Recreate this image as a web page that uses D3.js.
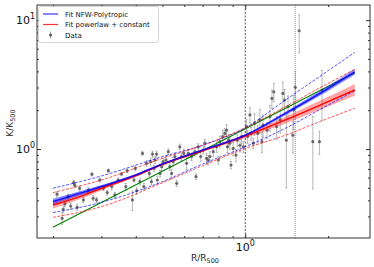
<!DOCTYPE html>
<html><head><meta charset="utf-8">
<script src="https://cdn.jsdelivr.net/npm/d3@7"></script>
<style>body{margin:0;background:#fff} svg{font-family:"DejaVu Sans",sans-serif}</style>
</head><body><svg id="chart" width="374" height="267"></svg>
<script>
// measured profile points
const dataR = [0.207,0.216,0.218,0.221,0.227,0.232,0.238,0.240,0.245,0.250,0.258,0.269,0.277,0.280,0.288,0.296,0.305,0.315,0.318,0.327,
  0.336,0.345,0.355,0.368,0.372,0.389,0.394,0.398,0.403,0.414,0.423,0.428,0.438,0.448,0.453,0.456,0.460,0.466,0.470,0.476,
  0.479,0.490,0.497,0.503,0.515,0.525,0.532,0.540,0.547,0.555,0.563,0.578,0.586,0.598,0.612,0.621,0.638,0.656,0.662,0.675,
  0.689,0.704,0.713,0.723,0.733,0.744,0.765,0.787,0.798,0.809,0.828,0.843,0.855,0.861,0.870,0.879,0.887,0.904,0.925,0.935,
  0.957,0.970,0.984,1.01,1.02,1.04,1.05,1.07,1.08,1.11,1.13,1.15,1.16,1.20,1.23,1.25,1.27,1.30,1.34,1.37,
  1.39,1.41,1.43,1.49,1.50,1.52,1.57,1.76,1.86,1.90];
const dataK = [0.446,0.290,0.341,0.375,0.427,0.361,0.548,0.523,0.353,0.496,0.403,0.481,0.637,0.415,0.403,0.575,0.496,0.459,0.679,0.511,
  0.440,0.575,0.640,0.511,0.679,0.403,0.575,0.708,0.475,0.558,0.925,0.511,0.774,0.647,0.798,0.558,0.914,0.708,0.822,0.914,
  0.575,0.647,0.730,0.798,0.822,0.953,0.730,0.647,0.798,0.873,0.542,1.04,0.873,0.925,0.774,0.925,0.873,0.953,0.611,1.04,
  0.873,0.982,1.11,0.847,0.822,0.873,0.953,1.04,0.822,1.14,1.25,1.32,1.40,1.04,1.17,1.11,0.751,1.01,0.898,1.17,
  1.07,1.25,1.04,1.49,1.25,1.84,1.32,1.11,1.58,1.32,1.68,1.14,1.53,1.40,1.78,2.47,2.78,1.49,1.68,2.70,
  2.40,1.17,2.13,1.28,2.01,3.01,8.27,1.14,1.14,2.87];
const dataErr = [0.02,0.03,0.02,0.02,0.02,0.02,0.02,0.02,0.02,0.02,0.02,0.02,0.02,0.02,0.02,0.02,0.02,0.02,0.02,0.03,
  0.02,0.02,0.02,0.03,0.02,0.07,0.02,0.03,0.03,0.03,0.03,0.03,0.04,0.03,0.05,0.03,0.05,0.04,0.05,0.05,
  0.04,0.04,0.05,0.05,0.06,0.05,0.05,0.05,0.06,0.06,0.03,0.05,0.06,0.07,0.08,0.07,0.06,0.07,0.03,0.06,
  0.07,0.07,0.08,0.08,0.07,0.08,0.08,0.10,0.06,0.12,0.15,0.12,0.15,0.10,0.12,0.12,0.05,0.12,0.10,0.12,
  0.12,0.15,0.10,0.20,0.15,0.25,0.15,0.10,0.30,0.20,0.35,0.20,0.30,0.20,0.40,0.40,0.45,0.30,0.35,0.60,
  0.50,0.67,0.45,0.35,0.60,1.00,2.70,0.65,0.23,1.20];

// model fits
const fitR = [0.2,0.25,0.3,0.4,0.5,0.7,1.0,1.4,2.0,2.5];
const nfwMid = [0.391,0.453,0.511,0.628,0.766,0.982,1.28,1.89,2.95,3.97];
const nfwLo = [0.372,0.436,0.496,0.616,0.757,0.970,1.26,1.83,2.82,3.76];
const nfwHi = [0.411,0.471,0.526,0.641,0.775,0.994,1.30,1.95,3.08,4.19];
const plcMid = [0.368,0.427,0.496,0.621,0.760,0.970,1.26,1.68,2.33,2.87];
const plcLo = [0.346,0.407,0.477,0.606,0.747,0.953,1.22,1.58,2.14,2.59];
const plcHi = [0.392,0.448,0.516,0.637,0.774,0.987,1.30,1.78,2.54,3.19];

const dashR = [0.2,0.3,0.5,0.7,1.0,1.4,2.0,2.5];
const nfwDashHi = [0.496,0.618,0.872,1.07,1.46,2.40,4.05,5.62];
const nfwDashLo = [0.321,0.386,0.558,0.765,1.04,1.45,2.19,2.83];
const plcDashHi = [0.459,0.575,0.847,1.07,1.46,2.13,3.23,4.15];
const plcDashLo = [0.295,0.357,0.548,0.743,1.01,1.28,1.73,2.07];

const baseR = [0.2,2.5];
const baseK = [0.247,3.91];

const vLines = [1.0,1.52];
const xMinor = [0.2,0.3,0.4,0.5,0.6,0.7,0.8,0.9,2];
const yMinor = [0.3,0.4,0.5,0.6,0.7,0.8,0.9,2,3,4,5,6,7,8,9];

const svg = d3.select("#chart");
const m = {left: 37, right: 370, top: 5, bottom: 238};

const x = d3.scaleLog().domain([0.175, 2.84]).range([m.left, m.right]);
const y = d3.scaleLog().domain([0.204, 13.1]).range([m.bottom, m.top]);

svg.append("clipPath").attr("id", "clip")
    .append("rect").attr("x", m.left).attr("y", m.top)
    .attr("width", m.right - m.left).attr("height", m.bottom - m.top);

const plot = svg.append("g").attr("clip-path", "url(#clip)");

// vertical markers
plot.append("line")
    .attr("x1", x(vLines[0])).attr("x2", x(vLines[0]))
    .attr("y1", m.top).attr("y2", m.bottom)
    .attr("stroke", "#222").attr("stroke-width", 0.8).attr("stroke-dasharray", "2,1.5");
plot.append("line")
    .attr("x1", x(vLines[1])).attr("x2", x(vLines[1]))
    .attr("y1", m.top).attr("y2", m.bottom)
    .attr("stroke", "#aaa").attr("stroke-width", 1.4).attr("stroke-dasharray", "1,1");

// data with error bars
const pts = dataR.map((r, i) => ({r: r, k: dataK[i], e: dataErr[i]}));
const eb = plot.append("g").attr("stroke", "#888").attr("stroke-opacity", 0.65).attr("stroke-width", 0.9);
pts.forEach(d => {
    const lo = Math.max(d.k - d.e, 0.01);
    const cx = x(d.r);
    eb.append("line")
        .attr("x1", cx).attr("x2", cx)
        .attr("y1", y(lo)).attr("y2", y(d.k + d.e));
    [lo, d.k + d.e].forEach(v => {
        eb.append("line").attr("x1", cx - 1).attr("x2", cx + 1)
            .attr("y1", y(v)).attr("y2", y(v));
    });
});
plot.append("g").selectAll("circle")
    .data(pts)
    .join("circle")
    .attr("cx", d => x(d.r))
    .attr("cy", d => y(d.k))
    .attr("r", 1.6)
    .attr("fill", "#4d4d4d")
    .attr("fill-opacity", 0.8);

const line = (xs, ys) => d3.line()
    .x((d, i) => x(xs[i]))
    .y(d => y(d))
    .curve(d3.curveMonotoneX)(ys);

const band = (xs, lo, hi) => d3.area()
    .x((d, i) => x(xs[i]))
    .y0((d, i) => y(lo[i]))
    .y1(d => y(d))
    .curve(d3.curveMonotoneX)(hi);

// green baseline
plot.append("path").attr("d", line(baseR, baseK))
    .attr("fill", "none").attr("stroke", "#008000").attr("stroke-width", 1.1);

// bands
plot.append("path").attr("d", band(fitR, plcLo, plcHi)).attr("fill", "#ff0000").attr("fill-opacity", 0.35);
plot.append("path").attr("d", band(fitR, nfwLo, nfwHi)).attr("fill", "#0000ff").attr("fill-opacity", 0.45);

// dashed envelopes
[[nfwDashHi, "#0000ff"], [nfwDashLo, "#0000ff"], [plcDashHi, "#ff0000"], [plcDashLo, "#ff0000"]].forEach(([ys, c]) => {
    plot.append("path").attr("d", line(dashR, ys))
        .attr("fill", "none").attr("stroke", c).attr("stroke-width", 0.9)
        .attr("stroke-opacity", 0.75).attr("stroke-dasharray", "3,1.5");
});

// central fits
plot.append("path").attr("d", line(fitR, plcMid))
    .attr("fill", "none").attr("stroke", "#ff0000").attr("stroke-width", 1.4);
plot.append("path").attr("d", line(fitR, nfwMid))
    .attr("fill", "none").attr("stroke", "#0000ff").attr("stroke-width", 1.6).attr("stroke-opacity", 0.8);

// axes with inward ticks
const axisColor = "#333";
function styleAxis(g) {
    g.select(".domain").remove();
    g.selectAll("line").attr("stroke", axisColor);
}
svg.append("g").attr("transform", `translate(0,${m.bottom})`)
    .call(d3.axisBottom(x).tickValues([1]).tickSize(-4).tickFormat(""))
    .call(styleAxis);
svg.append("g").attr("transform", `translate(0,${m.bottom})`)
    .call(d3.axisBottom(x).tickValues(xMinor).tickSize(-2).tickFormat(""))
    .call(styleAxis);
svg.append("g").attr("transform", `translate(0,${m.top})`)
    .call(d3.axisTop(x).tickValues([1]).tickSize(-4).tickFormat(""))
    .call(styleAxis);
svg.append("g").attr("transform", `translate(0,${m.top})`)
    .call(d3.axisTop(x).tickValues(xMinor).tickSize(-2).tickFormat(""))
    .call(styleAxis);
svg.append("g").attr("transform", `translate(${m.left},0)`)
    .call(d3.axisLeft(y).tickValues([1, 10]).tickSize(-4).tickFormat(""))
    .call(styleAxis);
svg.append("g").attr("transform", `translate(${m.left},0)`)
    .call(d3.axisLeft(y).tickValues(yMinor).tickSize(-2).tickFormat(""))
    .call(styleAxis);
svg.append("g").attr("transform", `translate(${m.right},0)`)
    .call(d3.axisRight(y).tickValues([1, 10]).tickSize(-4).tickFormat(""))
    .call(styleAxis);
svg.append("g").attr("transform", `translate(${m.right},0)`)
    .call(d3.axisRight(y).tickValues(yMinor).tickSize(-2).tickFormat(""))
    .call(styleAxis);

svg.append("rect")
    .attr("x", m.left).attr("y", m.top)
    .attr("width", m.right - m.left).attr("height", m.bottom - m.top)
    .attr("fill", "none").attr("stroke", axisColor).attr("stroke-width", 1);

// tick labels 10^n
function powLabel(tx, ty, exp, anchor) {
    const t = svg.append("text").attr("x", tx).attr("y", ty)
        .attr("text-anchor", anchor).attr("font-size", 11).attr("fill", "#111");
    t.append("tspan").text("10");
    t.append("tspan").attr("font-size", 8).attr("dy", -5).text(exp);
}
powLabel(35, y(10) + 4, "1", "end");
powLabel(35, y(1) + 4, "0", "end");
powLabel(x(1), 251, "0", "middle");

// axis titles
const xl = svg.append("text").attr("x", 205).attr("y", 261)
    .attr("text-anchor", "middle").attr("font-size", 9).attr("fill", "#222");
xl.append("tspan").text("R/R");
xl.append("tspan").attr("font-size", 6.5).attr("dy", 2).text("500");

const yl = svg.append("text").attr("transform", "translate(13,123) rotate(-90)")
    .attr("text-anchor", "middle").attr("font-size", 9).attr("fill", "#222");
yl.append("tspan").text("K/K");
yl.append("tspan").attr("font-size", 6.5).attr("dy", 2).text("500");

// legend
const lg = svg.append("g");
lg.append("rect").attr("x", 38.5).attr("y", 6.5).attr("width", 120).attr("height", 36).attr("rx", 2)
    .attr("fill", "#fff").attr("fill-opacity", 0.85).attr("stroke", "#ccc").attr("stroke-width", 0.8);
const items = [
    {label: "Fit NFW-Polytropic", color: "#0000ff", yy: 14},
    {label: "Fit powerlaw + constant", color: "#ff0000", yy: 24.5},
    {label: "Data", color: null, yy: 35}
];
items.forEach(it => {
    if (it.color) {
        lg.append("line").attr("x1", 43).attr("x2", 58).attr("y1", it.yy).attr("y2", it.yy)
            .attr("stroke", it.color).attr("stroke-width", 1.2).attr("stroke-opacity", 0.8);
    } else {
        lg.append("line").attr("x1", 50.5).attr("x2", 50.5).attr("y1", it.yy - 3.5).attr("y2", it.yy + 3.5)
            .attr("stroke", "#999").attr("stroke-width", 0.9);
        lg.append("circle").attr("cx", 50.5).attr("cy", it.yy).attr("r", 1.5).attr("fill", "#555");
    }
    lg.append("text").attr("x", 65).attr("y", it.yy + 2.5).attr("font-size", 7).attr("fill", "#111").text(it.label);
});
</script>
</body></html>
